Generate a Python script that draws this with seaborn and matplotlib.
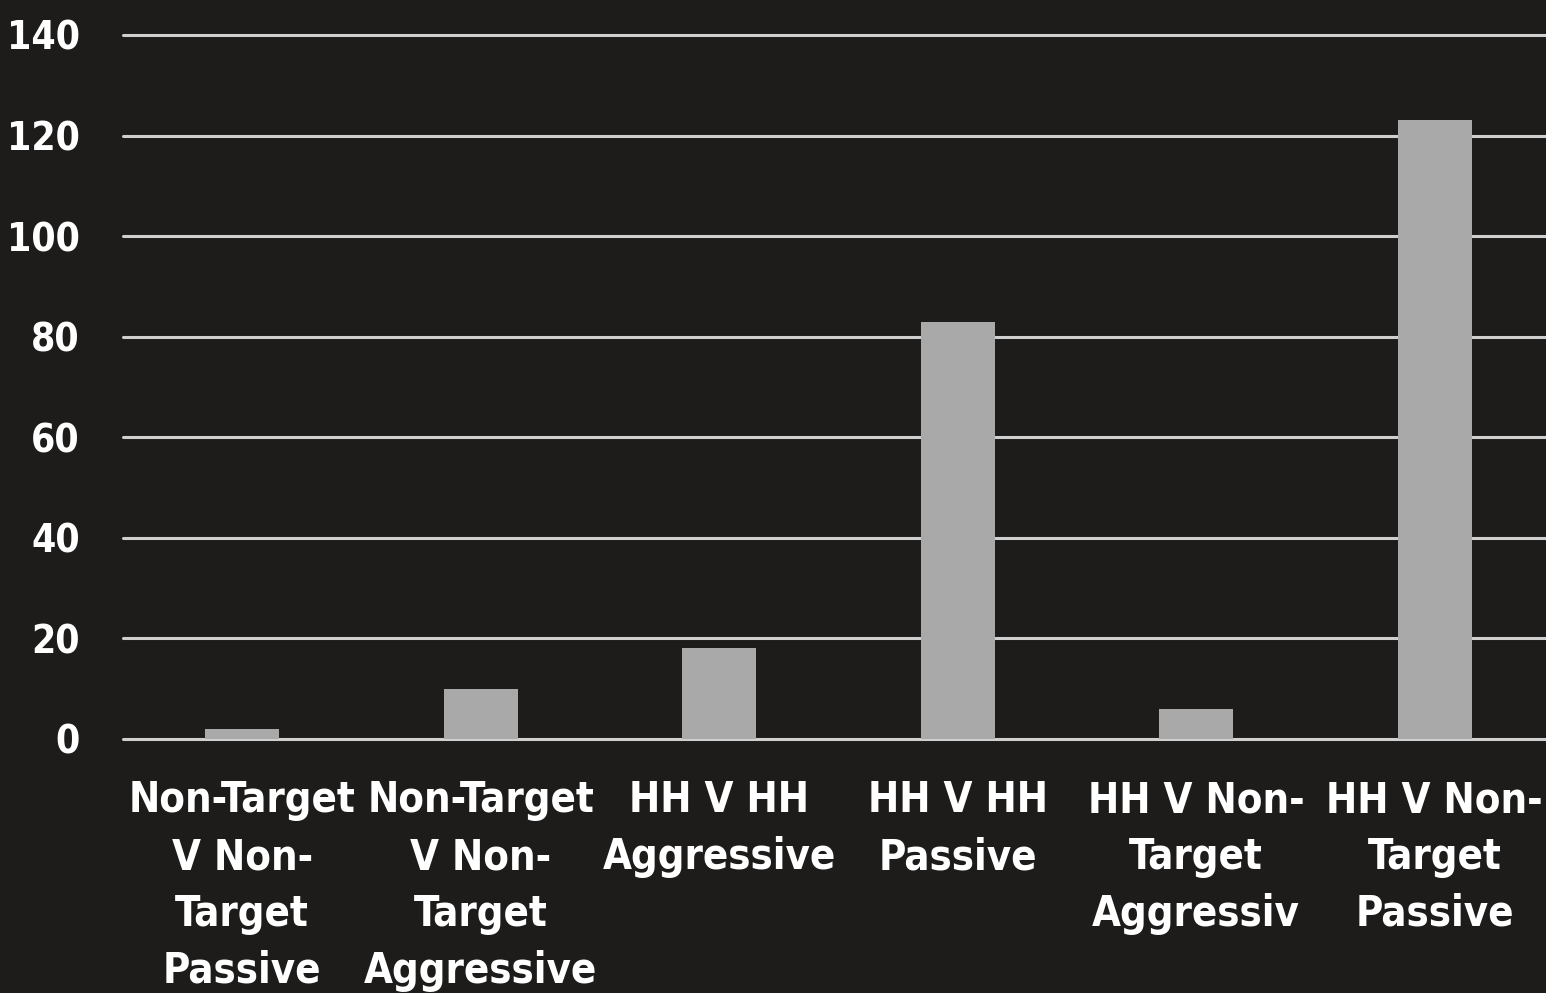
import matplotlib
matplotlib.use("Agg")
import matplotlib.pyplot as plt
import seaborn as sns
import pandas as pd

# values
categories = [
    "Non-Target\nV Non-\nTarget\nPassive",
    "Non-Target\nV Non-\nTarget\nAggressive",
    "HH V HH\nAggressive",
    "HH V HH\nPassive",
    "HH V Non-\nTarget\nAggressiv",
    "HH V Non-\nTarget\nPassive",
]
counts = [2, 10, 18, 83, 6, 123]
y_ticks = [0, 20, 40, 60, 80, 100, 120, 140]

bg = "#1d1c1a"
bar_color = "#a9a9a9"
grid_color = "#cfcfcf"

sns.set_style("dark")
plt.rcParams["font.family"] = ["DejaVu Sans"]
plt.rcParams["font.stretch"] = "condensed"
plt.rcParams["font.weight"] = "bold"

df = pd.DataFrame({"category": categories, "count": counts})

fig = plt.figure(figsize=(15.46, 9.93), dpi=100, facecolor=bg)
ax = fig.add_axes([123 / 1546, 1 - 739 / 993, (1554 - 123) / 1546, (739 - 35) / 993])
ax.set_facecolor(bg)

sns.barplot(data=df, x="category", y="count", color=bar_color, width=0.31,
            saturation=1, linewidth=0, ax=ax, zorder=3)

ax.set_xlim(-0.5, 5.5)
ax.set_ylim(0, 140)
ax.set_yticks(y_ticks)
# white horizontal rules at each tick
for y in y_ticks:
    ax.axhline(y, color=grid_color, lw=2.2, zorder=2, clip_on=False)

ax.set_xlabel("")
ax.set_ylabel("")
ax.tick_params(axis="x", length=0, pad=29, colors="white", labelsize=30)
ax.tick_params(axis="y", length=0, pad=31, colors="white", labelsize=28)
for lbl in ax.get_xticklabels():
    lbl.set_linespacing(1.45)
    lbl.set_verticalalignment("top")
for side in ax.spines.values():
    side.set_visible(False)

fig.savefig("out.png", dpi=100, facecolor=bg)
